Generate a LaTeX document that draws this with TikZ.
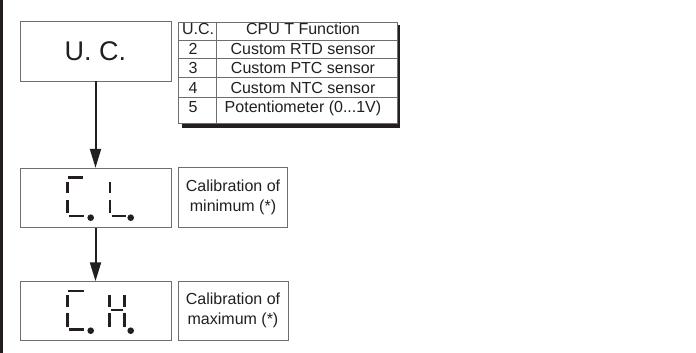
\documentclass[tikz,border=0pt]{standalone}
\usepackage{fontspec}
\setmainfont{Liberation Sans}
\usetikzlibrary{arrows.meta}
\definecolor{ink}{HTML}{231F20}
\definecolor{boxgray}{HTML}{6E6E6E}
\begin{document}
\begin{tikzpicture}[x=1pt,y=-1pt,
  box/.style={draw=boxgray, line width=0.9pt, fill=white, inner sep=0pt},
  lbl/.style={font=\fontsize{16}{19.5}\selectfont, text=ink, align=center},
  cell/.style={font=\fontsize{16}{16}\selectfont, text=ink, inner sep=0pt, anchor=base},
  seg/.style={line width=2.8pt, draw=ink},
  dotp/.style={fill=ink},
  flow/.style={line width=2pt, draw=ink, -{Triangle[length=19pt,width=11pt]}}]
\useasboundingbox (0,0) rectangle (696,353);
% left border
\fill[ink] (0,0) rectangle (2.7,353);

% main flow boxes
\node[box, minimum width=151pt, minimum height=60pt] (uc) at (95.5,51) {\fontsize{27}{27}\selectfont\color{ink}U. C.};
\node[box, minimum width=151pt, minimum height=59pt] (cl) at (95.5,197.8) {};
\node[box, minimum width=151pt, minimum height=59pt] (ch) at (95.5,311.2) {};

% side boxes
\node[box, lbl, minimum width=109pt, minimum height=60pt] (cmin) at (233,197.5) {Calibration of\\minimum (*)};
\node[box, lbl, minimum width=110pt, minimum height=59pt] (cmax) at (233,310.5) {Calibration of\\maximum (*)};

% arrows
\draw[flow] (uc.south) -- (cl.north);
\draw[flow] (cl.south) -- (ch.north);

% table shadow and frame
\fill[ink] (182,25) rectangle (400,128);
\node[box, minimum width=219pt, minimum height=101pt] (tab) at (287.5,72.5) {};
\draw[boxgray, line width=0.9pt] (178,40) -- (397,40);
\draw[boxgray, line width=0.9pt] (178,58) -- (397,58);
\draw[boxgray, line width=0.9pt] (178,77) -- (397,77);
\draw[boxgray, line width=0.9pt] (178,97) -- (397,97);
\draw[boxgray, line width=0.9pt] (216.5,22) -- (216.5,123);

% table text
\node[cell] (h1) at (198,35) {U.C.};
\node[cell] (h2) at (303,35) {CPU T Function};
\node[cell] (r1a) at (193,55) {2};
\node[cell] (r1b) at (303,55) {Custom RTD sensor};
\node[cell] (r2a) at (193,74) {3};
\node[cell] (r2b) at (303,74) {Custom PTC sensor};
\node[cell] (r3a) at (193,93) {4};
\node[cell] (r3b) at (303,93) {Custom NTC sensor};
\node[cell] (r4a) at (193,112) {5};
\node[cell] (r4b) at (303,112) {Potentiometer (0...1V)};

% seven-segment "C. L."
\draw[seg] (68.3,177.7) -- (83.3,177.7);
\draw[seg] (67.3,181.7) -- (67.3,192.7);
\draw[seg] (67.3,200) -- (67.3,213.3);
\draw[seg] (69.3,216) -- (84,216);
\fill[dotp] (90.7,217.7) circle (3.3);
\draw[seg] (110,181.7) -- (110,192.7);
\draw[seg] (110,200) -- (110,213.3);
\draw[seg] (111.7,216) -- (126,216);
\fill[dotp] (130.7,217.7) circle (3.3);

% seven-segment "C. H."
\draw[seg] (68.3,291) -- (84,291);
\draw[seg] (67.3,295) -- (67.3,306.7);
\draw[seg] (67.3,313.3) -- (67.3,326.7);
\draw[seg] (69.3,329.3) -- (84,329.3);
\fill[dotp] (90.7,330.7) circle (3.3);
\draw[seg] (109.3,295) -- (109.3,306.7);
\draw[seg] (109.3,313.3) -- (109.3,326.7);
\draw[seg] (124.3,295) -- (124.3,306.7);
\draw[seg] (124.3,313.3) -- (124.3,326.7);
\draw[seg] (110.8,310) -- (122.8,310);
\fill[dotp] (130.7,330.7) circle (3.3);
\end{tikzpicture}
\end{document}
